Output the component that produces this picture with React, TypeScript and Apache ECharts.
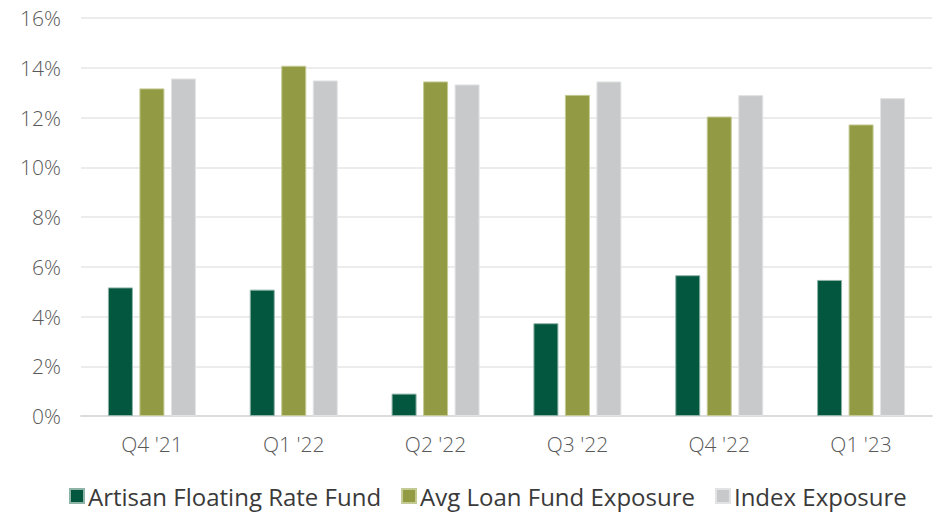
import React, { useEffect, useRef } from "react";
import * as echarts from "echarts";

const categories = ["Q4 '21", "Q1 '22", "Q2 '22", "Q3 '22", "Q4 '22", "Q1 '23"];
const artisan = [5.17, 5.08, 0.9, 3.73, 5.66, 5.47];
const avgLoan = [13.17, 14.08, 13.45, 12.91, 12.04, 11.72];
const indexExp = [13.57, 13.49, 13.33, 13.45, 12.9, 12.78];
const seriesNames = ["Artisan Floating Rate Fund", "Avg Loan Fund Exposure", "Index Exposure"];
const colors = ["#03573F", "#929B43", "#C8C9CB"];
const borderColors = ["#8FB3A6", "#C4CA94", "#E2E3E4"];

const FONT = "'Open Sans', sans-serif";

export default function App() {
  const ref = useRef<HTMLDivElement>(null);
  useEffect(() => {
    if (!ref.current) return;
    const chart = echarts.init(ref.current, null, { renderer: "svg" });
    const datasets = [artisan, avgLoan, indexExp];
    chart.setOption({
      animation: false,
      textStyle: { fontFamily: FONT },
      grid: { left: 81, right: 6, top: 18, bottom: 98, containLabel: false },
      legend: {
        top: 479,
        left: 64,
        itemWidth: 14,
        itemHeight: 14,
        itemGap: 20,
        icon: "rect",
        textStyle: { fontFamily: FONT, fontSize: 24, color: "#3a3a3a", padding: [0, 0, 0, -1] },
        data: seriesNames,
      },
      xAxis: {
        type: "category",
        data: categories,
        axisLine: { show: true, lineStyle: { color: "#dcdcdc", width: 2 } },
        axisTick: { show: false },
        axisLabel: { fontFamily: FONT, fontSize: 21, fontWeight: 300, color: "#595959", margin: 17 },
      },
      yAxis: {
        type: "value",
        min: 0,
        max: 16,
        interval: 2,
        axisLine: { show: false },
        axisTick: { show: false },
        splitLine: { lineStyle: { color: "#e6e6e6", width: 1.5 } },
        axisLabel: {
          fontFamily: FONT,
          fontSize: 21,
          fontWeight: 300,
          color: "#595959",
          margin: 20,
          formatter: (v: number) => v + "%",
        },
      },
      series: seriesNames.map((name, i) => ({
        name,
        type: "bar",
        data: datasets[i],
        barWidth: 25,
        barGap: "26%",
        itemStyle: { color: colors[i], borderColor: borderColors[i], borderWidth: 1 },
      })),
    });
    return () => chart.dispose();
  }, []);
  return <div ref={ref} style={{ width: 938, height: 514, position: "absolute", left: 0, top: 0 }} />;
}
